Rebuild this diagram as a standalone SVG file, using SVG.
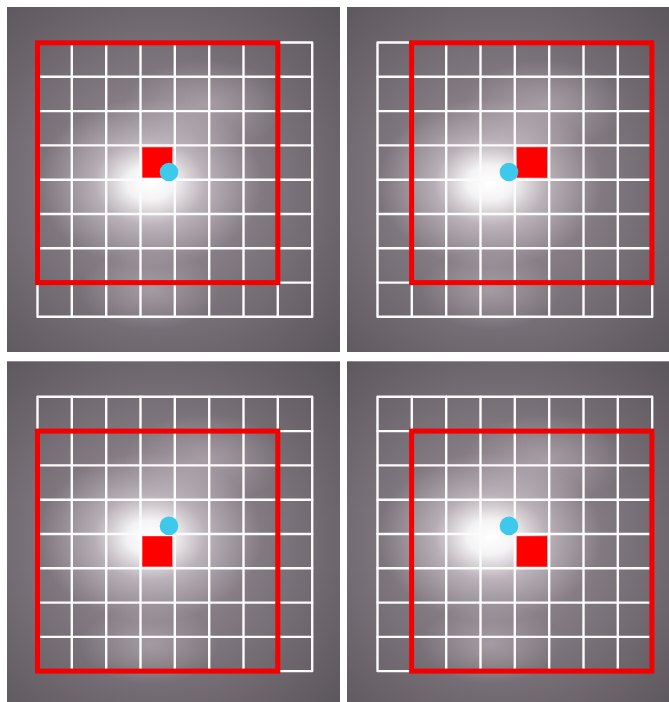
<svg xmlns="http://www.w3.org/2000/svg" xmlns:xlink="http://www.w3.org/1999/xlink" width="669" height="702" viewBox="0 0 669 702">
  <style>
    .grid { fill: none; stroke: #fbfbfb; stroke-width: 2.4; stroke-linecap: round; stroke-linejoin: round; }
    .frame { fill: none; stroke: #f50000; stroke-width: 5; }
    .cell { fill: #ff0000; }
    .dot { fill: #3cc9ec; }
  </style>
  <defs>
    <radialGradient id="base" cx="160" cy="185" r="250" gradientUnits="userSpaceOnUse">
      <stop offset="0" stop-color="#a49aa2"/>
      <stop offset="0.35" stop-color="#867d85"/>
      <stop offset="0.7" stop-color="#6d666d"/>
      <stop offset="1" stop-color="#5a555b"/>
    </radialGradient>
    <radialGradient id="glow" cx="0.5" cy="0.5" r="0.5">
      <stop offset="0" stop-color="#ffffff" stop-opacity="1"/>
      <stop offset="0.2" stop-color="#ffffff" stop-opacity="0.9"/>
      <stop offset="0.5" stop-color="#f2ecf0" stop-opacity="0.4"/>
      <stop offset="1" stop-color="#e8e0e6" stop-opacity="0"/>
    </radialGradient>
    <radialGradient id="soft" cx="0.5" cy="0.5" r="0.5">
      <stop offset="0" stop-color="#c8bec6" stop-opacity="0.5"/>
      <stop offset="1" stop-color="#c8bec6" stop-opacity="0"/>
    </radialGradient>
    <g id="panelBg">
      <rect x="7" y="7" width="333" height="345" fill="url(#base)"/>
      <ellipse cx="205" cy="105" rx="80" ry="45" fill="url(#soft)"/>
      <ellipse cx="150" cy="290" rx="70" ry="40" fill="url(#soft)"/>
      <ellipse cx="150" cy="183" rx="112" ry="85" fill="url(#glow)"/>
    </g>
    <g id="grid">
      <rect class="grid" x="37.5" y="42.5" width="274.7" height="274.3"/>
      <path class="grid" d="M71.8 42.5V316.8M106.2 42.5V316.8M140.5 42.5V316.8M174.8 42.5V316.8M209.2 42.5V316.8M243.5 42.5V316.8M277.8 42.5V316.8M37.5 76.8H312.2M37.5 111.1H312.2M37.5 145.4H312.2M37.5 179.7H312.2M37.5 214H312.2M37.5 248.3H312.2M37.5 282.6H312.2"/>
    </g>
  </defs>

  <g id="panel-top-left">
    <use xlink:href="#panelBg"/>
    <use xlink:href="#grid"/>
    <rect class="frame" x="37.5" y="42.8" width="240.3" height="239.8"/>
    <rect class="cell" x="142.3" y="147.3" width="30" height="30.4"/>
    <circle class="dot" cx="169" cy="172" r="9.3"/>
  </g>

  <g id="panel-top-right" transform="translate(340,0)">
    <use xlink:href="#panelBg"/>
    <use xlink:href="#grid"/>
    <rect class="frame" x="71.6" y="42.8" width="240.3" height="239.8"/>
    <rect class="cell" x="176.7" y="147.3" width="30.3" height="30.4"/>
    <circle class="dot" cx="169" cy="172" r="9.3"/>
  </g>

  <g id="panel-bottom-left" transform="translate(0,354.3)">
    <use xlink:href="#panelBg"/>
    <use xlink:href="#grid"/>
    <rect class="frame" x="37.5" y="76.8" width="240.3" height="240"/>
    <rect class="cell" x="142.3" y="181.9" width="30" height="30.4"/>
    <circle class="dot" cx="169" cy="171.6" r="9.3"/>
  </g>

  <g id="panel-bottom-right" transform="translate(340,354.3)">
    <use xlink:href="#panelBg"/>
    <use xlink:href="#grid"/>
    <rect class="frame" x="71.6" y="76.8" width="240.3" height="240"/>
    <rect class="cell" x="176.7" y="181.9" width="30.3" height="30.4"/>
    <circle class="dot" cx="169" cy="171.6" r="9.3"/>
  </g>

  <g id="connectors"/>
</svg>
